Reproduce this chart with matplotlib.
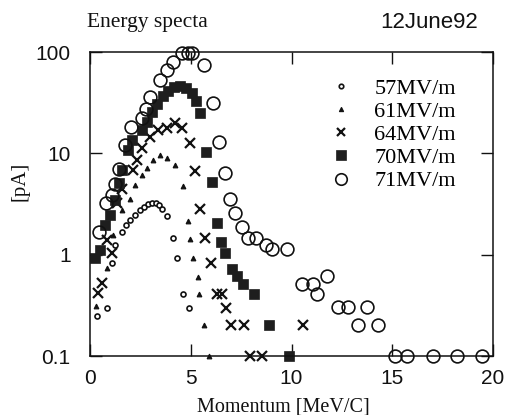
import matplotlib
matplotlib.use("Agg")
import matplotlib.pyplot as plt
from matplotlib.ticker import FixedLocator, FixedFormatter

# --- Data --------------------------------------------------------------------

# 57 MV/m, small open circles
p57 = [0.35, 0.84, 1.09, 1.24, 1.59, 1.79, 1.99, 2.23, 2.48, 2.68, 2.88, 3.08,
       3.28, 3.42, 3.57, 3.82, 4.12, 4.32, 4.62, 4.91]
i57 = [0.25, 0.30, 0.83, 1.25, 1.67, 1.96, 2.2, 2.47, 2.76, 2.96, 3.16, 3.24,
       3.24, 3.09, 2.83, 2.41, 1.46, 0.93, 0.41, 0.30]

# 61 MV/m, small triangles
p61 = [0.30, 0.84, 1.14, 1.59, 1.99, 2.23, 2.58, 2.83, 3.13, 3.47, 3.82, 4.22,
       4.62, 4.86, 4.96, 5.11, 5.36, 5.41, 5.66, 5.91]
i61 = [0.31, 0.74, 1.56, 2.76, 3.55, 4.9, 6.1, 7.2, 8.6, 9.6, 9.0, 7.7,
       4.8, 2.15, 1.43, 0.93, 0.60, 0.41, 0.20, 0.10]

# 64 MV/m, crosses
p64 = [0.40, 0.60, 0.84, 1.09, 1.34, 1.59, 2.13, 2.33, 2.58, 2.98, 3.37, 3.82,
       4.22, 4.57, 4.96, 5.21, 5.46, 5.71, 6.00, 6.30, 6.55, 6.75, 7.00, 7.64,
       7.94, 8.54, 10.57]
i64 = [0.42, 0.53, 1.4, 1.04, 3.2, 4.4, 6.9, 8.6, 11.3, 14.5, 17.0, 17.8,
       19.9, 17.8, 12.7, 6.7, 2.83, 1.46, 0.83, 0.41, 0.41, 0.30, 0.20, 0.20,
       0.10, 0.10, 0.20]

# 70 MV/m, filled squares
p70 = [0.25, 0.50, 0.74, 0.99, 1.24, 1.44, 1.59, 1.89, 2.08, 2.58, 2.83, 3.08,
       3.33, 3.62, 3.87, 4.17, 4.47, 4.76, 5.06, 5.26, 5.46, 5.76, 6.05, 6.30,
       6.50, 6.70, 7.05, 7.30, 7.59, 8.14, 8.88, 9.88]
i70 = [0.93, 1.11, 1.96, 2.47, 3.47, 5.1, 6.86, 10.8, 13.6, 17.0, 20.4, 25.6,
       30.8, 36.9, 41.3, 45.2, 46.3, 44.2, 39.4, 32.9, 25.0, 10.3, 5.2, 2.06,
       1.33, 1.04, 0.72, 0.62, 0.51, 0.41, 0.20, 0.10]

# 71 MV/m, large open circles
p71 = [0.45, 0.79, 1.09, 1.24, 1.44, 1.74, 2.03, 2.58, 2.78, 2.98, 3.47, 3.82,
       4.12, 4.57, 4.86, 5.06, 5.66, 6.10, 6.40, 6.70, 6.95, 7.20, 7.54, 7.84,
       8.24, 8.73, 9.03, 9.78, 10.52, 11.07, 11.27, 11.76, 12.31, 12.80, 13.75,
       13.30, 14.29, 15.14, 15.73, 17.02, 18.21, 19.45]
i71 = [1.67, 3.2, 3.9, 5.0, 7.0, 12.1, 18.2, 22.3, 27.4, 36.0, 53.0, 66.6,
       79.8, 97.5, 97.5, 97.5, 74.6, 31.4, 13.0, 6.4, 3.55, 2.58, 1.88, 1.46,
       1.46, 1.25, 1.14, 1.14, 0.51, 0.51, 0.41, 0.62, 0.305, 0.305, 0.305,
       0.20, 0.20, 0.10, 0.10, 0.10, 0.10, 0.10]

y_ticks = [0.1, 1, 10, 100]
y_tick_labels = ["0.1", "1", "10", "100"]
x_ticks = [0, 5, 10, 15, 20]

SERIF = ["Liberation Serif", "DejaVu Serif"]
SANS = ["Liberation Sans", "DejaVu Sans"]

# --- Figure ------------------------------------------------------------------

fig = plt.figure(figsize=(5.08, 4.15), dpi=100)
ax = fig.add_axes([90 / 508, 1 - 356 / 415, 403 / 508, 304 / 415])

ink = "#111111"
ax.plot(p57, i57, ls="none", marker="o", ms=3.6, mfc="white", mec=ink,
        mew=1.2, clip_on=False, label="57MV/m")
ax.plot(p61, i61, ls="none", marker="^", ms=3.4, mfc=ink, mec=ink,
        mew=0.8, clip_on=False, label="61MV/m")
ax.plot(p64, i64, ls="none", marker="x", ms=6.5, mec=ink, mew=1.6,
        clip_on=False, label="64MV/m")
ax.plot(p70, i70, ls="none", marker="s", ms=7.5, mfc="#1e1e1e", mec="#1e1e1e",
        mew=0.5, clip_on=False, label="70MV/m")
ax.plot(p71, i71, ls="none", marker="o", ms=9.2, mfc="none", mec=ink,
        mew=1.2, clip_on=False, label="71MV/m")

ax.set_yscale("log")
ax.set_xlim(0, 20)
ax.set_ylim(0.1, 100)
ax.yaxis.set_major_locator(FixedLocator(y_ticks))
ax.yaxis.set_major_formatter(FixedFormatter(y_tick_labels))
ax.yaxis.set_minor_locator(FixedLocator([]))
ax.xaxis.set_major_locator(FixedLocator(x_ticks))

ax.tick_params(which="major", direction="in", length=8.5, width=1.0,
               top=True, right=True, labelsize=15, colors=ink)
ax.tick_params(axis="y", pad=14)
ax.tick_params(axis="x", pad=9)
for lab in ax.get_xticklabels() + ax.get_yticklabels():
    lab.set_family(SANS)
for s in ax.spines.values():
    s.set_linewidth(1.1)
    s.set_color(ink)

ax.set_xlabel("Momentum [MeV/C]", family=SERIF, fontsize=14.5, labelpad=5,
              color=ink)
ax.xaxis.set_label_coords(0.48, -0.135)
fig.text(20 / 508, 1 - 181 / 415, "[pA]", family=SERIF, fontsize=15,
         rotation=90, ha="center", va="center", color=ink)
fig.text(87 / 508, 1 - 22 / 415, "Energy specta", family=SERIF, fontsize=15.5,
         ha="left", va="center", color=ink)
fig.text(478 / 508, 1 - 22 / 415, "12June92", family=SANS, fontsize=16,
         ha="right", va="center", color=ink)

leg = ax.legend(loc="upper left", bbox_to_anchor=(330 / 508, 1 - 78 / 415),
                bbox_transform=fig.transFigure, frameon=False,
                prop={"family": SERIF, "size": 16}, borderpad=0,
                borderaxespad=0, handlelength=1.0, handletextpad=1.0,
                labelspacing=0.12, markerscale=0.9)

fig.savefig("out.png", dpi=100)
